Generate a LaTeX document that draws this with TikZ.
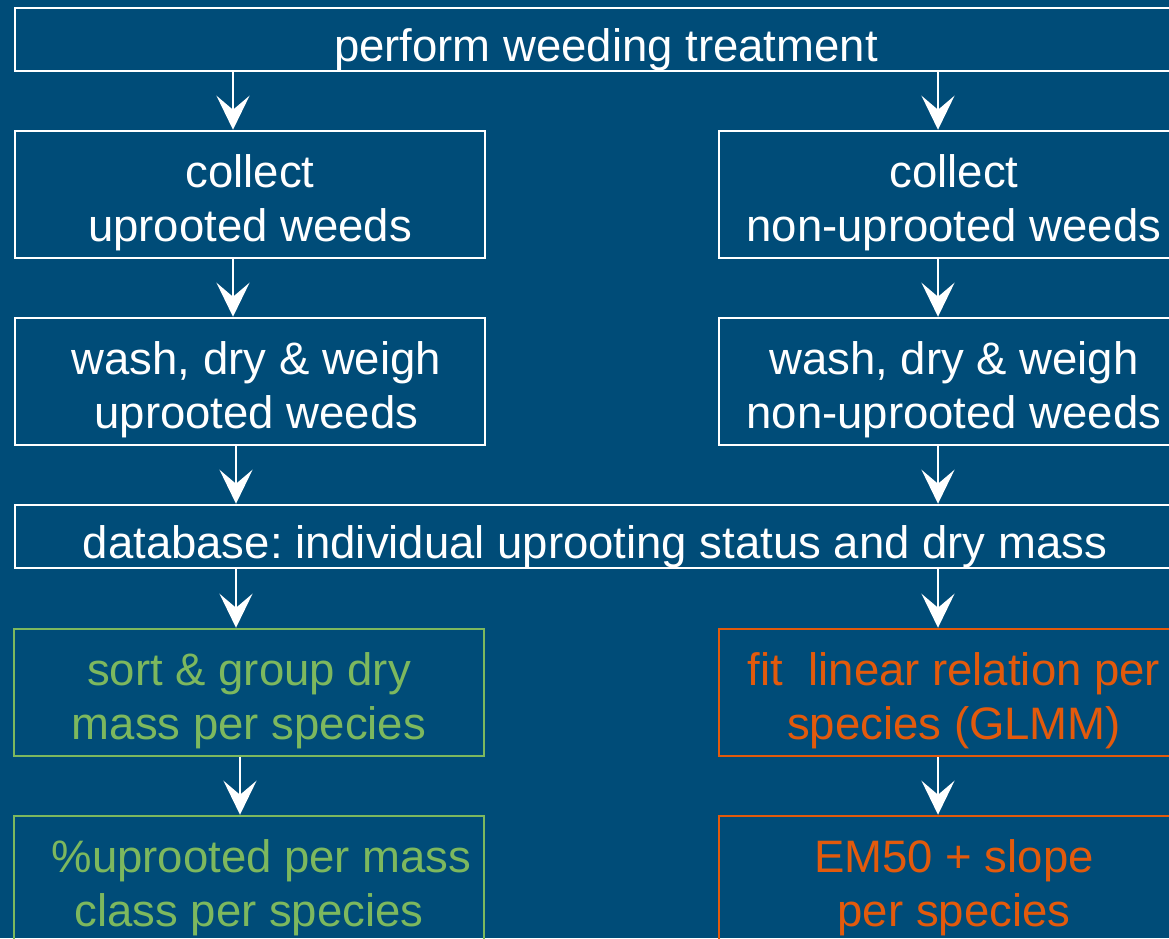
\documentclass[tikz,border=0pt]{standalone}
\usepackage{fontspec}
\setmainfont{Liberation Sans}
\usetikzlibrary{arrows.meta}
\definecolor{bgblue}{HTML}{004C78}
\definecolor{grn}{HTML}{7DB85E}
\definecolor{orng}{HTML}{E35A0C}
\frenchspacing
\begin{document}
\begin{tikzpicture}[x=1pt,y=-1pt, line width=2.5pt, inner sep=0pt,
    base/.style={draw=white, text=white, rectangle, align=center, font=\fontsize{45.5}{54}\selectfont},
    box/.style={base, minimum width=470pt, minimum height=127pt, execute at begin node={\rule{0pt}{104pt}}},
    wide/.style={base, minimum height=63pt, execute at begin node={\rule{0pt}{53pt}}},
    green box/.style={box, draw=grn, text=grn},
    orange box/.style={box, draw=orng, text=orng},
    arr/.style={white, line width=2pt, -{Stealth[length=34pt, width=33pt, inset=14pt]}}]
    \useasboundingbox (0,0) rectangle (1169,938);
    \clip (0,0) rectangle (1169,938);
    \fill[bgblue] (0,0) rectangle (1169,938);

    \node[wide, minimum width=1182pt] (perform) at (606,39.5) {perform weeding treatment};
    \node[box] (collU) at (250,194.5) {collect\\uprooted weeds};
    \node[box] (collN) at (954,194.5) {collect\\non-uprooted weeds};
    \node[box] (washU) at (250,381.5) {\ wash, dry \& weigh\\\ uprooted weeds};
    \node[box] (washN) at (954,381.5) {wash, dry \& weigh\\non-uprooted weeds};
    \node[wide, minimum width=1160pt] (db) at (595,536.5) {database: individual uprooting status and dry mass};
    \node[green box] (sort) at (249,692.5) {sort \& group dry\\mass per species};
    \node[green box] (perc) at (249,879.5) {\ \ \%uprooted per mass\\class per species};
    \node[orange box] (fit) at (954,692.5) {fit\ \ linear relation per\\species (GLMM)};
    \node[orange box] (em) at (954,879.5) {EM50 + slope\\per species};

    % left column
    \draw[arr] ([xshift=-17pt]collU.north |- perform.south) -- ([xshift=-17pt]collU.north);
    \draw[arr] ([xshift=-17pt]collU.south) -- ([xshift=-17pt]washU.north);
    \draw[arr] ([xshift=-14pt]washU.south) -- ([xshift=-14pt]washU.south |- db.north);
    \draw[arr] ([xshift=-13pt]sort.north |- db.south) -- ([xshift=-13pt]sort.north);
    \draw[arr] ([xshift=-9pt]sort.south) -- ([xshift=-9pt]perc.north);
    % right column
    \draw[arr] ([xshift=-16pt]collN.north |- perform.south) -- ([xshift=-16pt]collN.north);
    \draw[arr] ([xshift=-16pt]collN.south) -- ([xshift=-16pt]washN.north);
    \draw[arr] ([xshift=-16pt]washN.south) -- ([xshift=-16pt]washN.south |- db.north);
    \draw[arr] ([xshift=-16pt]fit.north |- db.south) -- ([xshift=-16pt]fit.north);
    \draw[arr] ([xshift=-16pt]fit.south) -- ([xshift=-16pt]em.north);
\end{tikzpicture}
\end{document}
